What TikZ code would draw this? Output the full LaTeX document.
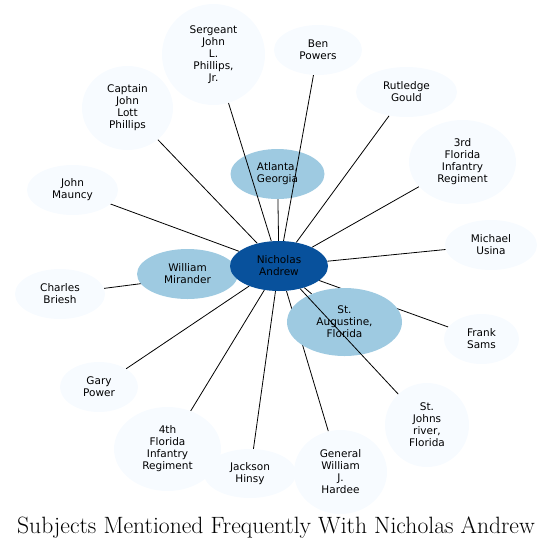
\documentclass[tikz,border=0pt]{standalone}
\usepackage{fontspec}
\newfontfamily\labelfont{DejaVu Sans}
\usetikzlibrary{shapes.geometric, backgrounds}
\definecolor{leafblue}{HTML}{F7FBFF}
\definecolor{midblue}{HTML}{9ECAE1}
\definecolor{hubblue}{HTML}{08519C}

\begin{document}
\begin{tikzpicture}[
  x=1pt, y=-1pt,
  subject/.style={ellipse, fill=leafblue, inner sep=0pt, align=center, font={\labelfont\fontsize{10.5}{12}\selectfont}},
  place/.style={subject, fill=midblue},
  hub/.style={subject, fill=hubblue},
  link/.style={draw=black, line width=0.8pt}
]
\useasboundingbox (0,0) rectangle (552,550);

% Outer subjects
\node[subject, minimum width=103, minimum height=101] (sergeant) at (213.5,54.5) {Sergeant\\John\\L.\\Phillips,\\Jr.};
\node[subject, minimum width=88, minimum height=50] (ben) at (318,50) {Ben\\Powers};
\node[subject, minimum width=101, minimum height=50] (rutledge) at (406.5,92) {Rutledge\\Gould};
\node[subject, minimum width=107, minimum height=84] (third) at (462.5,162) {3rd\\Florida\\Infantry\\Regiment};
\node[subject, minimum width=91, minimum height=84] (captain) at (127.5,108) {Captain\\John\\Lott\\Phillips};
\node[subject, minimum width=91, minimum height=50] (mauncy) at (72.5,190) {John\\Mauncy};
\node[subject, minimum width=90, minimum height=50] (briesh) at (60,294) {Charles\\Briesh};
\node[subject, minimum width=78, minimum height=50] (gary) at (99,387) {Gary\\Power};
\node[subject, minimum width=92, minimum height=50] (usina) at (491,245) {Michael\\Usina};
\node[subject, minimum width=75, minimum height=50] (sams) at (481.5,339) {Frank\\Sams};
\node[subject, minimum width=107, minimum height=84] (fourth) at (167.5,449) {4th\\Florida\\Infantry\\Regiment};
\node[subject, minimum width=92, minimum height=49] (jackson) at (250,473.5) {Jackson\\Hinsy};
\node[subject, minimum width=93, minimum height=84] (hardee) at (340.5,472) {General\\William\\J.\\Hardee};
\node[subject, minimum width=84, minimum height=84] (johns) at (427,425) {St.\\Johns\\river,\\Florida};

% Inner places and center
\node[place, minimum width=94, minimum height=50] (atlanta) at (277.5,174) {Atlanta,\\Georgia};
\node[place, minimum width=101, minimum height=50] (mirander) at (187.5,274) {William\\Mirander};
\node[place, minimum width=115, minimum height=68] (augustine) at (344.5,322) {St.\\Augustine,\\Florida};
\node[hub, minimum width=98, minimum height=50] (nicholas) at (279,266) {Nicholas\\Andrew};

% Links lying under the inner places
\begin{scope}[on background layer]
\draw[link] (nicholas) -- (atlanta);
\draw[link] (nicholas) -- (mirander);
\draw[link] (nicholas) -- (augustine);
\draw[link] (nicholas) -- (briesh);
\draw[link] (nicholas) -- (sams);
\draw[link] (nicholas) -- (rutledge);
\draw[link] (nicholas) -- (third);
\draw[link] (nicholas) -- (captain);
\draw[link] (nicholas) -- (mauncy);
\draw[link] (nicholas) -- (gary);
\draw[link] (nicholas) -- (usina);
\draw[link] (nicholas) -- (fourth);
\draw[link] (nicholas) -- (jackson);
\draw[link] (nicholas) -- (hardee);
\end{scope}

% Links crossing over the inner places
\draw[link] (nicholas) -- (sergeant);
\draw[link] (nicholas) -- (ben);
\draw[link] (nicholas) -- (johns);

% Title
\node[font=\fontsize{23.6}{27}\selectfont] (title) at (276,528) {Subjects Mentioned Frequently With Nicholas Andrew};
\end{tikzpicture}
\end{document}
